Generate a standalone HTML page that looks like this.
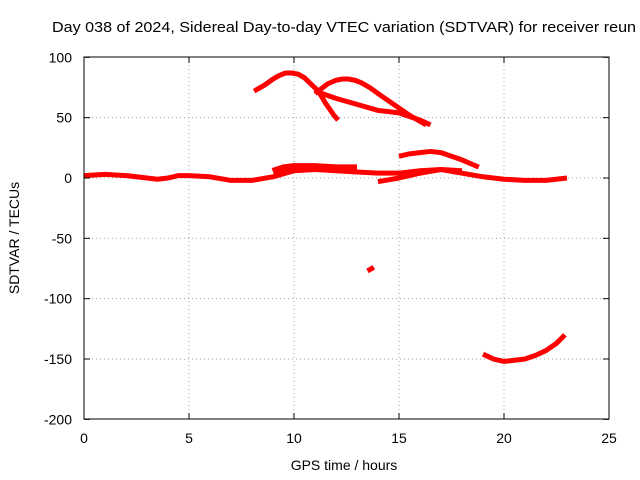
<!DOCTYPE html>
<html><head><meta charset="utf-8"><style>
body{margin:0;background:#fff;}
svg{display:block;font-family:"Liberation Sans",sans-serif;}
</style></head><body>
<svg id="chart" width="640" height="480" viewBox="0 0 640 480">
<text x="52" y="32" font-size="15" textLength="584" lengthAdjust="spacingAndGlyphs" fill="#000">Day 038 of 2024, Sidereal Day-to-day VTEC variation (SDTVAR) for receiver reun</text>
<g id="grid"></g>
<g id="series"></g>
<rect x="84" y="57" width="525" height="362" fill="none" stroke="#000" stroke-width="1"/>
<g id="ticks"></g>
<text x="344" y="470" font-size="14" text-anchor="middle">GPS time / hours</text>
<text transform="translate(19,238) rotate(-90)" font-size="14" text-anchor="middle">SDTVAR / TECUs</text>
</svg>
<script>
const xTicks=[0,5,10,15,20,25];
const yTicks=[100,50,0,-50,-100,-150,-200];
const sMain=[[0,2],[1,3],[2,2],[3,0],[3.5,-1],[4,0],[4.5,2],[5,2],[6,1],[7,-2],[8,-2],[9,1],[10,6],[11,7],[12,6],[13,5],[14,4],[15,4],[16,6],[17,7],[18,4],[19,1],[20,-1],[21,-2],[22,-2],[23,0]];
const sBand=[[9,5],[9.5,8],[10,9],[11,9],[12,8],[13,8]];
const sArc1=[[8.1,72],[8.6,77],[9,82],[9.3,85],[9.6,87],[9.9,87],[10.2,86],[10.5,83],[10.8,78],[11.1,73],[11.3,68],[11.5,62],[11.7,57],[11.9,52],[12.1,48]];
const sArc2=[[11,70],[11.3,74],[11.6,78],[12,81],[12.3,82],[12.6,82],[12.9,81],[13.2,79],[13.6,75],[14,70],[14.5,64],[15,58],[15.5,52],[16,47],[16.3,44]];
const sLine=[[11,72],[12,66],[13,61],[14,56],[15,54],[16,48],[16.5,44]];
const sArc3=[[15,18],[15.5,20],[16,21],[16.5,22],[17,21],[17.5,18],[18,15],[18.8,9]];
const sRise=[[14,-3],[15,0],[16,4],[17,7],[18,6]];
const sShort=[[13.5,-77],[13.8,-74]];
const sLow=[[19,-146],[19.5,-150],[20,-152],[20.5,-151],[21,-150],[21.5,-147],[22,-143],[22.5,-137],[22.9,-130]];
const NS='http://www.w3.org/2000/svg';
const X=v=>84+v*21, Y=v=>178-v*1.2067;
const grid=document.getElementById('grid'),ticks=document.getElementById('ticks'),ser=document.getElementById('series');
function mk(t,a,p){const e=document.createElementNS(NS,t);for(const k in a)e.setAttribute(k,a[k]);p.appendChild(e);return e;}
xTicks.forEach(v=>{
 if(v>0&&v<25){const g=mk('line',{x1:X(v),x2:X(v),y1:57,y2:419,stroke:'#a0a0a0','stroke-dasharray':'1,3'},grid);
 }
 const t=mk('text',{x:X(v),y:443,'font-size':14,'text-anchor':'middle'},ticks);t.textContent=v;
 
 mk('line',{x1:X(v),x2:X(v),y1:419,y2:413,stroke:'#000'},ticks);
 mk('line',{x1:X(v),x2:X(v),y1:57,y2:63,stroke:'#000'},ticks);
});
yTicks.forEach(v=>{
 if(v<100&&v>-200){const g=mk('line',{x1:84,x2:609,y1:Y(v),y2:Y(v),stroke:'#a0a0a0','stroke-dasharray':'1,3'},grid);
 }
 const t=mk('text',{x:72,y:Y(v)+5,'font-size':14,'text-anchor':'end'},ticks);t.textContent=v;
 
 mk('line',{x1:84,x2:90,y1:Y(v),y2:Y(v),stroke:'#000'},ticks);
 mk('line',{x1:609,x2:603,y1:Y(v),y2:Y(v),stroke:'#000'},ticks);
});
[sMain,sBand,sArc1,sArc2,sLine,sArc3,sRise,sShort,sLow].forEach((s,i)=>{
 const p=mk('polyline',{points:s.map(d=>X(d[0])+','+Y(d[1])).join(' '),fill:'none',stroke:'#f00','stroke-width':i===1?8:5,'stroke-linejoin':'round'},ser);
 
 
});
</script>
</body></html>
